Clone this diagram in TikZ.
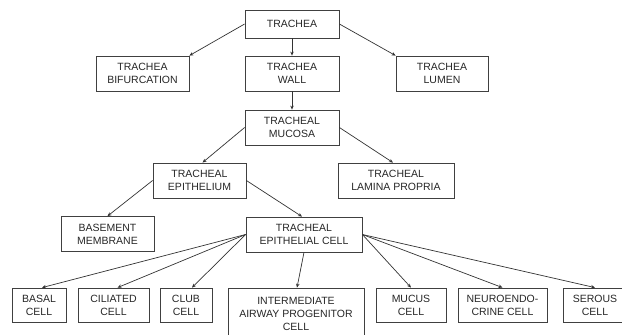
\documentclass[tikz,border=0pt]{standalone}
\usepackage{fontspec}
\setmainfont{Liberation Sans}
\usepackage{tikz}
\usetikzlibrary{positioning,arrows.meta,calc}

\tikzset{
  box/.style={draw=black!75, line width=0.8pt, text=black!85, align=center,
    inner sep=0pt, minimum height=35pt,
    font=\fontsize{10.5}{13}\selectfont},
  link/.style={color=black!80, line width=0.7pt,
    -{Stealth[length=4pt,width=3.5pt]}}
}

\begin{document}
\begin{tikzpicture}[x=1pt,y=-1pt]

  \useasboundingbox (0,0) rectangle (622,335);

  \node[box, minimum width=94pt, minimum height=28pt] (tr) at (292,24) {TRACHEA};
  \node[box, minimum width=93pt] (bif) at (142.5,73.5) {TRACHEA\\BIFURCATION};
  \node[box, minimum width=94pt] (wall) at (292,73.5) {TRACHEA\\WALL};
  \node[box, minimum width=92pt] (lum) at (442,73.5) {TRACHEA\\LUMEN};
  \node[box, minimum width=94pt] (muc) at (292,127.5) {TRACHEAL\\MUCOSA};
  \node[box, minimum width=93pt] (epi) at (199.5,180.5) {TRACHEAL\\EPITHELIUM};
  \node[box, minimum width=116pt] (lam) at (396,180.5) {TRACHEAL\\LAMINA PROPRIA};
  \node[box, minimum width=93pt] (bm) at (107.5,234) {BASEMENT\\MEMBRANE};
  \node[box, minimum width=116pt] (ec) at (304,234.5) {TRACHEAL\\EPITHELIAL CELL};

  \node[box, minimum width=54pt, minimum height=34pt] (bas) at (39,305) {BASAL\\CELL};
  \node[box, minimum width=71pt, minimum height=34pt] (cil) at (113.5,305) {CILIATED\\CELL};
  \node[box, minimum width=52pt, minimum height=34pt] (club) at (186,305) {CLUB\\CELL};
  \node[box, minimum width=136pt, minimum height=52pt] (iapc) at (296,314) {INTERMEDIATE\\AIRWAY PROGENITOR\\CELL};
  \node[box, minimum width=70pt, minimum height=34pt] (mcs) at (411,305) {MUCUS\\CELL};
  \node[box, minimum width=89pt, minimum height=34pt] (ne) at (502.5,305) {NEUROENDO-\\CRINE CELL};
  \node[box, minimum width=64pt, minimum height=34pt] (ser) at (595,305) {SEROUS\\CELL};

  \path[link] (tr.west) edge (bif.north east);
  \path[link] (tr.south) edge (wall.north);
  \path[link] (tr.east) edge (lum.north west);
  \path[link] (wall.south) edge (muc.north);
  \path[link] (muc.west) edge ([xshift=3pt]epi.north);
  \path[link] (muc.east) edge ([xshift=-3pt]lam.north);
  \path[link] (epi.west) edge (bm.north);
  \path[link] (epi.east) edge ([xshift=-2pt]ec.north);

  \path[link] (ec.west) edge ([xshift=3pt]bas.north);
  \path[link] (ec.west) edge ([xshift=4pt]cil.north);
  \path[link] (ec.west) edge ([xshift=6pt]club.north);
  \path[link] (ec.south) edge ([xshift=1pt]iapc.north);
  \path[link] (ec.east) edge (mcs.north);
  \path[link] (ec.east) edge (ne.north);
  \path[link] (ec.east) edge (ser.north);

\end{tikzpicture}
\end{document}
